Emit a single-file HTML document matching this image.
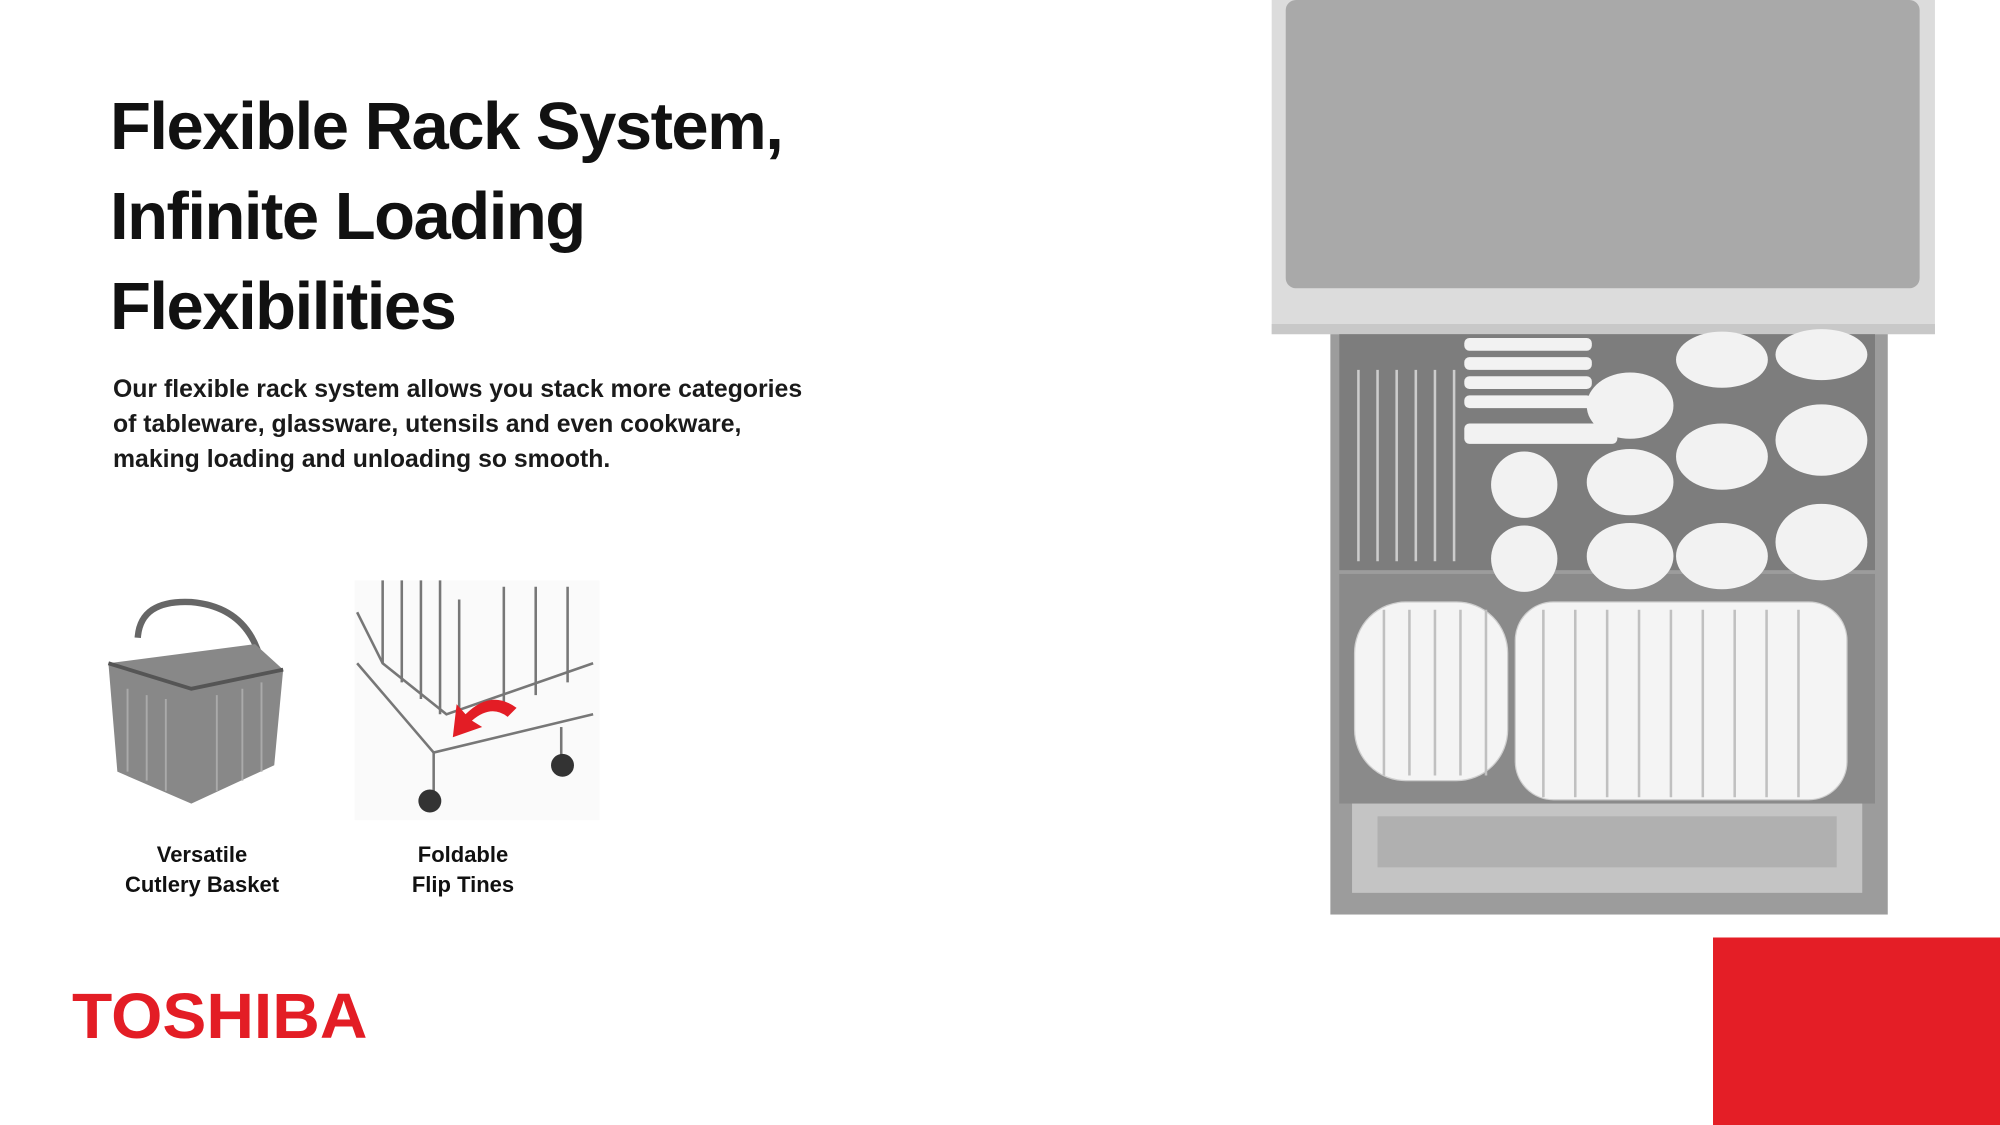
<!DOCTYPE html>
<html><head><meta charset="utf-8"><style>
body{margin:0;width:2000px;height:1125px;overflow:hidden;background:#fff;position:relative;font-family:"Liberation Sans",sans-serif;color:#111}
.t{position:absolute;left:110px;top:82px;font-size:67px;font-weight:bold;line-height:90px;letter-spacing:-1.5px}
.p{position:absolute;left:113px;top:372px;font-size:24.8px;line-height:35px;font-weight:bold;color:#1a1a1a}
.l{position:absolute;width:260px;text-align:center;font-size:22px;font-weight:bold;line-height:30px}
.logo{position:absolute;left:72px;top:984px;font-size:64px;font-weight:900;color:#e31d25;letter-spacing:0;transform:scaleX(1.03);transform-origin:left;line-height:64px}
svg{position:absolute;left:0;top:0}
</style></head><body>
<svg width="2000" height="1125" viewBox="0 0 1568 882">
<rect x="1343" y="735" width="225" height="147" fill="#e41e26"/>
<rect x="997" y="0" width="520" height="262" fill="#dcdcdc"/>
<rect x="1008" y="0" width="497" height="226" rx="8" fill="#a9a9a9"/>
<rect x="997" y="254" width="520" height="8" fill="#c8c8c8"/>
<rect x="1043" y="262" width="437" height="455" fill="#9c9c9c"/>
<rect x="1050" y="262" width="420" height="185" fill="#7d7d7d"/>
<rect x="1050" y="450" width="420" height="180" fill="#8a8a8a"/>
<rect x="1060" y="630" width="400" height="70" fill="#c4c4c4"/>
<rect x="1080" y="640" width="360" height="40" fill="#b0b0b0"/>
<g fill="#f2f2f2">
<rect x="1148" y="265" width="100" height="10" rx="4"/><rect x="1148" y="280" width="100" height="10" rx="4"/><rect x="1148" y="295" width="100" height="10" rx="4"/><rect x="1148" y="310" width="100" height="10" rx="4"/>
<rect x="1148" y="332" width="120" height="16" rx="4"/>
<ellipse cx="1195" cy="380" rx="26" ry="26"/><ellipse cx="1195" cy="438" rx="26" ry="26"/>
<ellipse cx="1278" cy="318" rx="34" ry="26"/><ellipse cx="1278" cy="378" rx="34" ry="26"/><ellipse cx="1278" cy="436" rx="34" ry="26"/>
<ellipse cx="1350" cy="282" rx="36" ry="22"/><ellipse cx="1350" cy="358" rx="36" ry="26"/><ellipse cx="1350" cy="436" rx="36" ry="26"/>
<ellipse cx="1428" cy="278" rx="36" ry="20"/><ellipse cx="1428" cy="345" rx="36" ry="28"/><ellipse cx="1428" cy="425" rx="36" ry="30"/>
</g>
<g stroke="#ccc" stroke-width="2">
<line x1="1065" y1="290" x2="1065" y2="440"/><line x1="1080" y1="290" x2="1080" y2="440"/><line x1="1095" y1="290" x2="1095" y2="440"/><line x1="1110" y1="290" x2="1110" y2="440"/><line x1="1125" y1="290" x2="1125" y2="440"/><line x1="1140" y1="290" x2="1140" y2="440"/>
</g>
<g fill="#f4f4f4" stroke="#cfcfcf" stroke-width="1">
<rect x="1062" y="472" width="120" height="140" rx="40"/>
<rect x="1188" y="472" width="260" height="155" rx="30"/>
</g>
<g stroke="#c0c0c0" stroke-width="2">
<line x1="1085" y1="478" x2="1085" y2="608"/><line x1="1105" y1="478" x2="1105" y2="608"/><line x1="1125" y1="478" x2="1125" y2="608"/><line x1="1145" y1="478" x2="1145" y2="608"/><line x1="1165" y1="478" x2="1165" y2="608"/>
<line x1="1210" y1="478" x2="1210" y2="625"/><line x1="1235" y1="478" x2="1235" y2="625"/><line x1="1260" y1="478" x2="1260" y2="625"/><line x1="1285" y1="478" x2="1285" y2="625"/><line x1="1310" y1="478" x2="1310" y2="625"/><line x1="1335" y1="478" x2="1335" y2="625"/><line x1="1360" y1="478" x2="1360" y2="625"/><line x1="1385" y1="478" x2="1385" y2="625"/><line x1="1410" y1="478" x2="1410" y2="625"/>
</g>
<g stroke="#666" fill="none" stroke-width="5">
<path d="M108 500 Q110 470 150 472 Q195 476 205 520"/>
</g>
<path d="M85 520 L200 505 L222 525 L215 600 L150 630 L92 605 Z" fill="#888"/>
<path d="M85 520 L150 540 L222 525" stroke="#555" stroke-width="3" fill="none"/>
<g stroke="#aaa" stroke-width="1.5"><line x1="100" y1="540" x2="100" y2="605"/><line x1="115" y1="545" x2="115" y2="612"/><line x1="130" y1="548" x2="130" y2="620"/><line x1="170" y1="545" x2="170" y2="620"/><line x1="190" y1="540" x2="190" y2="612"/><line x1="205" y1="535" x2="205" y2="605"/></g>
<rect x="278" y="455" width="192" height="188" fill="#fafafa"/>
<g stroke="#777" stroke-width="2" fill="none">
<path d="M280 520 L340 590 L465 560"/><path d="M280 480 L300 520 L350 560 L465 520"/><path d="M340 590 L340 630"/><path d="M440 570 L440 600"/>
<line x1="300" y1="455" x2="300" y2="520"/><line x1="315" y1="455" x2="315" y2="535"/><line x1="330" y1="455" x2="330" y2="548"/><line x1="345" y1="455" x2="345" y2="560"/><line x1="360" y1="470" x2="360" y2="575"/><line x1="395" y1="460" x2="395" y2="555"/><line x1="420" y1="460" x2="420" y2="545"/><line x1="445" y1="460" x2="445" y2="535"/>
</g>
<circle cx="337" cy="628" r="9" fill="#333"/><circle cx="441" cy="600" r="9" fill="#333"/>
<path d="M405 555 Q385 540 365 560 L358 552 L355 578 L378 570 L370 565 Q385 552 398 562 Z" fill="#e31d25"/>
</svg>
<div class="t">Flexible Rack System,<br>Infinite Loading<br>Flexibilities</div>
<div class="p">Our flexible rack system allows you stack more categories<br>of tableware, glassware, utensils and even cookware,<br>making loading and unloading so smooth.</div>
<div class="l" style="left:72px;top:840px">Versatile<br>Cutlery Basket</div>
<div class="l" style="left:333px;top:840px">Foldable<br>Flip Tines</div>
<div class="logo">TOSHIBA</div>
</body></html>
